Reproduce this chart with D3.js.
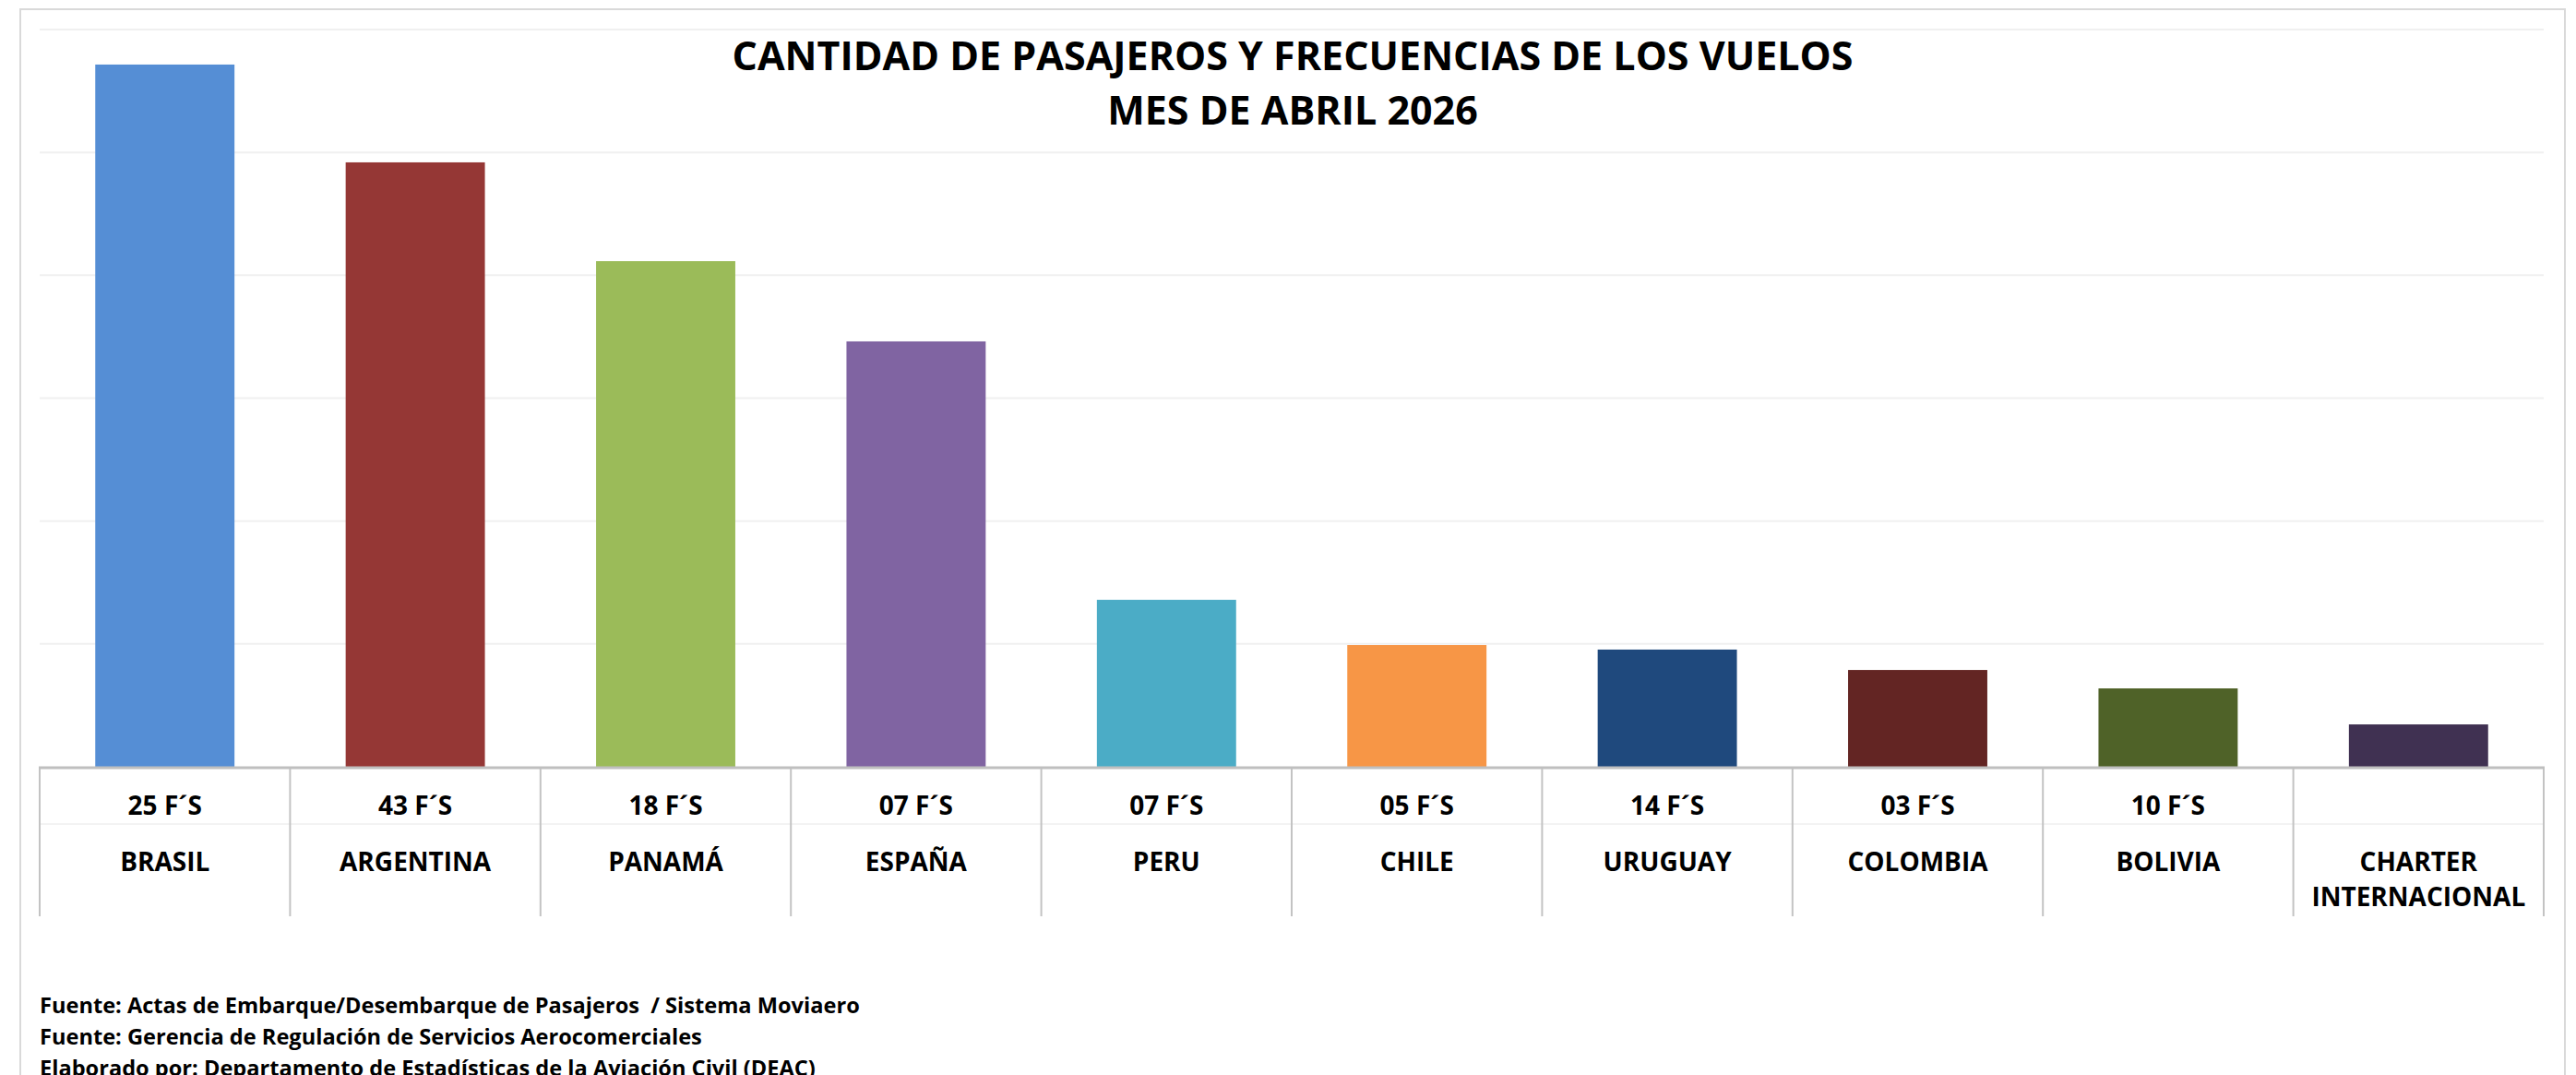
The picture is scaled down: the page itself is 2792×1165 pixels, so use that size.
<!DOCTYPE html>
<html>
<head>
<meta charset="utf-8">
<script src="https://cdn.jsdelivr.net/npm/d3@7"></script>
<style>
  body { margin: 0; background: #fff; }
  text { font-family: "Open Sans", Calibri, sans-serif; font-weight: bold; fill: #000; }
</style>
</head>
<body>
<div id="chart"></div>
<script>

// data (value axis is hidden, units are approximate)
const countries = ["BRASIL", "ARGENTINA", "PANAMÁ", "ESPAÑA", "PERU", "CHILE", "URUGUAY", "COLOMBIA", "BOLIVIA", "CHARTER INTERNACIONAL"]
const frequencies = ["25 F´S", "43 F´S", "18 F´S", "07 F´S", "07 F´S", "05 F´S", "14 F´S", "03 F´S", "10 F´S", ""]
const passengers = [5715, 4919, 4115, 3462, 1359, 991, 954, 788, 638, 345]
const barColors = ["#558ed5", "#953735", "#9bbb59", "#8064a2", "#4bacc6", "#f79646", "#1f497d", "#632523", "#4f6228", "#403152"]
const titleLines = ["CANTIDAD DE PASAJEROS Y FRECUENCIAS DE LOS VUELOS", "MES DE ABRIL 2026"]
const footerLines = [
    "Fuente: Actas de Embarque/Desembarque de Pasajeros  / Sistema Moviaero",
    "Fuente: Gerencia de Regulación de Servicios Aerocomerciales",
    "Elaborado por: Departamento de Estadísticas de la Aviación Civil (DEAC)"
]

const W = 2792, H = 1165
const plot = { left: 43, right: 2757, top: 32, bottom: 831 }

const svg = d3.select("#chart").append("svg")
    .attr("width", W)
    .attr("height", H)

svg.append("rect")
    .attr("width", W).attr("height", H)
    .attr("fill", "#fff")

// chart frame (bottom runs off the picture)
svg.append("rect")
    .attr("x", 22).attr("y", 10)
    .attr("width", 2758).attr("height", 1300)
    .attr("fill", "#fff")
    .attr("stroke", "#d9d9d9")
    .attr("stroke-width", 2)

const data = countries.map((c, i) => ({ country: c, freq: frequencies[i], value: passengers[i], color: barColors[i] }))

const x = d3.scaleBand()
    .domain(countries)
    .range([plot.left, plot.right])
    .paddingInner(0.444)
    .paddingOuter(0.222)

const y = d3.scaleLinear()
    .domain([0, 6000])
    .range([plot.bottom, plot.top])

// gridlines
svg.append("g")
    .selectAll("line")
    .data(y.ticks(6).filter(d => d > 0))
    .join("line")
    .attr("x1", plot.left).attr("x2", plot.right)
    .attr("y1", d => y(d)).attr("y2", d => y(d))
    .attr("stroke", "#f0f0f0")
    .attr("stroke-width", 2)

// bars
svg.append("g")
    .selectAll("rect")
    .data(data)
    .join("rect")
    .attr("x", d => x(d.country))
    .attr("y", d => y(d.value))
    .attr("width", x.bandwidth())
    .attr("height", d => y(0) - y(d.value))
    .attr("fill", d => d.color)

// category table under the axis
const step = x.step()
const tableBottom = 993
const edges = d3.range(countries.length + 1).map(i => plot.left + i * step)

svg.append("line")
    .attr("x1", plot.left).attr("x2", plot.right)
    .attr("y1", 893).attr("y2", 893)
    .attr("stroke", "#f3f3f3")
    .attr("stroke-width", 2)

svg.append("g")
    .selectAll("line")
    .data(edges)
    .join("line")
    .attr("x1", d => d).attr("x2", d => d)
    .attr("y1", plot.bottom).attr("y2", tableBottom)
    .attr("stroke", "#c3c3c3")
    .attr("stroke-width", 2)

svg.append("line")
    .attr("x1", plot.left - 1).attr("x2", plot.right + 1)
    .attr("y1", y(0) + 1).attr("y2", y(0) + 1)
    .attr("stroke", "#bfbfbf")
    .attr("stroke-width", 3)

const cells = svg.append("g")
    .selectAll("g")
    .data(data)
    .join("g")
    .attr("transform", d => `translate(${x(d.country) + x.bandwidth() / 2},0)`)

cells.append("text")
    .attr("y", 883)
    .attr("text-anchor", "middle")
    .attr("font-size", 28)
    .text(d => d.freq)

cells.append("text")
    .attr("y", 944)
    .attr("text-anchor", "middle")
    .attr("font-size", 28)
    .each(function (d) {
        // wrap long names onto two lines, like the spreadsheet does
        const words = d.country.split(" ")
        const lines = d.country.length > 12 ? words : [d.country]
        d3.select(this).selectAll("tspan")
            .data(lines)
            .join("tspan")
            .attr("x", 0)
            .attr("dy", (l, i) => i === 0 ? 0 : 38)
            .text(l => l)
    })

// title
svg.append("g")
    .selectAll("text")
    .data(titleLines)
    .join("text")
    .attr("x", 1401)
    .attr("y", (d, i) => 76 + i * 59)
    .attr("text-anchor", "middle")
    .attr("font-size", 43)
    .text(d => d)

// footer notes (last line is cut by the bottom edge, as in the source)
svg.append("g")
    .selectAll("text")
    .data(footerLines)
    .join("text")
    .attr("x", 43)
    .attr("y", (d, i) => 1098 + i * 34)
    .attr("font-size", 23.6)
    .style("white-space", "pre")
    .text(d => d)

</script>
</body>
</html>
